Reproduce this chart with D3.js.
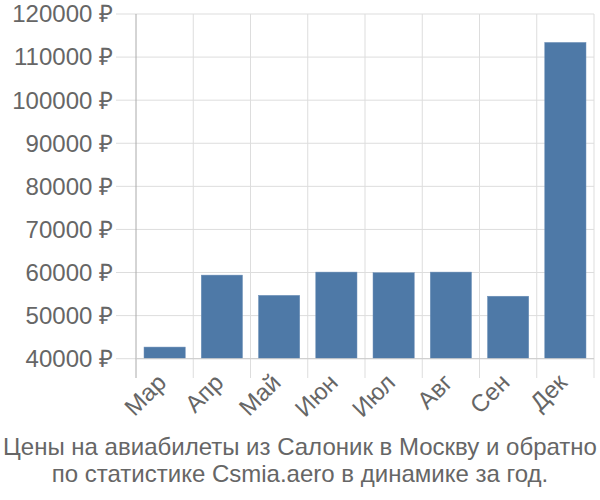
<!DOCTYPE html>
<html><head><meta charset="utf-8">
<script src="https://cdn.jsdelivr.net/npm/d3@7"></script>
<style>body{margin:0;background:#fff;}svg{display:block;font-family:"Liberation Sans",Arial,sans-serif;}</style>
</head><body>
<svg id="c" width="600" height="500"></svg>
<script>
const categories = ["Мар","Апр","Май","Июн","Июл","Авг","Сен","Дек"];
const values = [42700, 59400, 54700, 60100, 59950, 60100, 54500, 113400];
const yTicks = [40000,50000,60000,70000,80000,90000,100000,110000,120000];
const titleLines = ["Цены на авиабилеты из Салоник в Москву и обратно","по статистике Csmia.aero в динамике за год."];

(function(){
const svg = d3.select("#c");
const pL = 136, pR = 594, pT = 14, pB = 358.7;
const x = d3.scaleBand().domain(categories).range([pL, pR]).paddingInner(0.28).paddingOuter(0.14);
const y = d3.scaleLinear().domain([40000,120000]).range([pB, pT]);

svg.append("g").selectAll("line").data(yTicks).join("line")
  .attr("x1", 116).attr("x2", pR).attr("y1", d=>y(d)).attr("y2", d=>y(d))
  .attr("stroke", "#dddddd").attr("stroke-width", 1);
const bounds = categories.map(c => x(c) - x.step()*x.paddingInner()/2);
bounds.push(pR);
svg.append("g").selectAll("line").data(bounds.slice(1)).join("line")
  .attr("x1", d=>d).attr("x2", d=>d).attr("y1", pT).attr("y2", 378)
  .attr("stroke", "#dddddd").attr("stroke-width", 1);

svg.append("g").selectAll("rect").data(values).join("rect")
  .attr("x", (d,i)=>x(categories[i])).attr("width", x.bandwidth())
  .attr("y", d=>y(d)).attr("height", d=>pB - y(d))
  .attr("fill", "#4e79a7").attr("stroke", "#6d8fb8").attr("stroke-width", 0.5);

svg.append("line").attr("x1", pL).attr("x2", pL).attr("y1", pT).attr("y2", 378)
  .attr("stroke", "#aaaaaa").attr("stroke-width", 1);
svg.append("line").attr("x1", pL).attr("x2", pR).attr("y1", pB).attr("y2", pB)
  .attr("stroke", "#cccccc").attr("stroke-width", 1);

svg.append("g").selectAll("text").data(yTicks).join("text")
  .attr("x", 113).attr("y", d=>y(d)).attr("dy", "0.35em")
  .attr("text-anchor", "end").attr("font-size", 24).attr("fill", "#666666")
  .text(d => d + " ₽");

svg.append("g").selectAll("text").data(categories).join("text")
  .attr("transform", d => `translate(${x(d)+x.bandwidth()/2+3},${384}) rotate(-45)`)
  .attr("text-anchor", "end").attr("font-size", 24).attr("fill", "#666666")
  .text(d => d);

svg.append("g").selectAll("text").data(titleLines).join("text")
  .attr("x", 300).attr("y", (d,i)=>455 + i*27)
  .attr("text-anchor", "middle").attr("font-size", 24).attr("fill", "#666666")
  .text(d=>d);
})();
</script>
</body></html>
